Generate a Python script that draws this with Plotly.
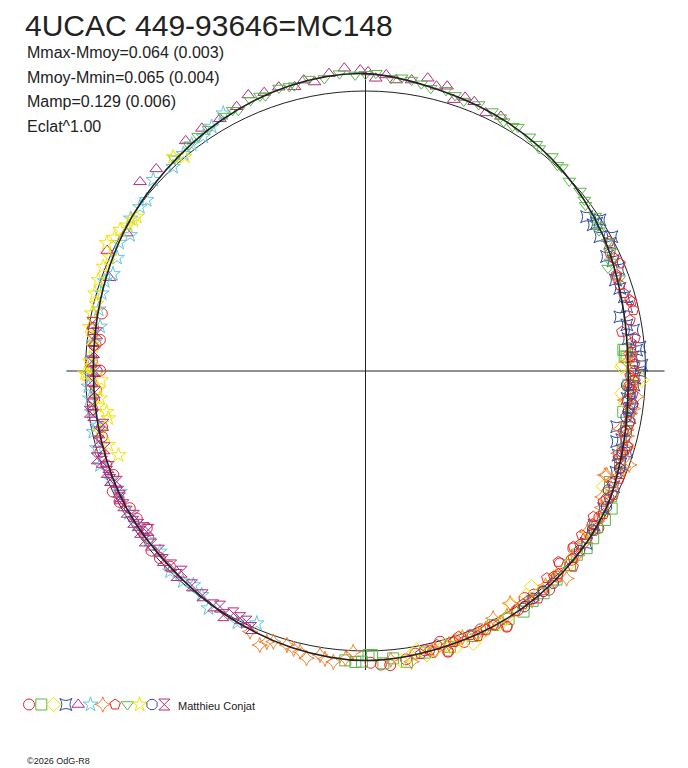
import plotly.graph_objects as go

# phase angle (deg, clockwise from top) and relative radius (1 = mean level)
circle_theta = [225, 227.7, 230, 232.4, 234.3, 237.2, 239.8, 242, 244.5, 247.6, 250, 253, 256, 262, 266, 270, 270.1, 272,
                275.6, 276.7, 279, 282.3, 118, 124, 130.5, 134.7, 140, 145, 151.1, 156, 160, 163.6, 164.6, 168, 172, 175.2,
                122, 127, 132.5, 137, 143, 147.5, 153, 158, 161.5, 166.5, 170, 177, 179, 258, 264, 268]
circle_r = [0.988, 0.993, 0.998, 0.979, 0.962, 0.972, 0.974, 0.995, 1.000, 0.974, 0.985, 0.990, 0.970, 0.985, 0.965, 0.960,
            0.948, 0.978, 0.969, 0.955, 0.985, 0.964, 0.975, 1.003, 0.976, 0.977, 1.020, 0.990, 1.043, 1.010, 1.030, 1.045,
            1.003, 1.020, 1.040, 1.054,
            0.985, 0.990, 0.998, 1.004, 1.000, 1.012, 1.018, 1.022, 1.015, 1.032, 1.025, 1.050, 1.042, 0.962, 0.975, 0.982]

square_theta = [85.3, 85.4, 86.8, 86.9, 99, 109.6, 114.4, 119.2, 121.9, 126.3, 128.7, 133.5, 141.3, 146.7, 153.3, 171.9,
                174.5, 176.5, 178.7, 179.4, 180.7, 182,
                90, 93, 103, 117, 124, 131, 137.5, 144, 150, 158, 163, 168, 184]
square_r = [0.924, 0.930, 0.927, 0.934, 0.932, 0.965, 0.959, 1.007, 1.007, 1.009, 1.012, 1.007, 1.017, 1.028, 1.015, 1.049,
            1.031, 1.046, 1.015, 1.014, 1.038, 1.040,
            0.952, 0.940, 0.955, 0.985, 0.998, 1.000, 1.010, 1.015, 1.022, 1.020, 1.030, 1.028, 1.036]

diamond_theta = [88.7, 89, 91.5, 91.9, 95, 115.9, 125.6, 131, 137, 142.4, 144.3, 148, 150.3, 154.8, 158.4, 160.5, 161.7,
                 164, 167.8, 169.6, 171,
                 93, 97, 101, 106.5, 112, 120.5, 128, 134, 140, 146, 152, 156.5, 163, 166, 173]
diamond_r = [0.921, 0.915, 0.980, 0.987, 0.918, 0.944, 0.986, 0.995, 1.000, 0.972, 0.986, 0.985, 1.017, 1.016, 1.046, 1.013,
             1.037, 1.020, 1.037, 1.013, 1.030,
             0.952, 0.935, 0.958, 0.962, 0.975, 0.990, 0.992, 1.002, 1.006, 1.010, 1.022, 1.028, 1.030, 1.026, 1.042]

sqstar_theta = [55.1, 57.2, 57.3, 57.4, 60.2, 61.4, 62.4, 64.6, 70, 76.2, 78, 81.3, 83, 85, 85.6, 88.8, 90.1, 93, 96, 98,
                102.5, 105, 105.7, 107.2, 108.4, 112, 124, 128,
                66, 68, 72, 74, 80, 87, 91.5, 94.5, 100, 110, 115, 120]
sqstar_r = [0.963, 0.996, 0.966, 0.980, 0.965, 1.002, 0.985, 0.953, 0.950, 0.961, 0.929, 0.968, 0.945, 0.984, 0.971, 0.987,
            0.980, 0.960, 0.940, 0.955, 0.919, 0.948, 0.932, 0.976, 0.951, 0.965, 0.985, 1.000,
            0.968, 0.975, 0.955, 0.962, 0.948, 0.955, 0.962, 0.945, 0.958, 0.970, 0.978, 0.982]

triup_theta = [290, 295, 300, 310, 314, 322, 330, 337, 343, 346, 350, 353, 356, 359, 2, 6, 9, 12, 16, 18, 22, 25, 28,
               326, 334, 340, 348, 0.5, 4, 14, 20]
triup_r = [0.973, 1.018, 0.985, 1.051, 1.039, 1.043, 1.040, 1.071, 1.060, 1.046, 1.048, 1.070, 1.084, 1.075, 1.046, 1.045,
           1.052, 1.069, 1.058, 1.019, 1.037, 1.017, 1.030,
           1.045, 1.050, 1.058, 1.062, 1.068, 1.060, 1.048, 1.040]

star_theta = [203.3, 213.5, 216.2, 218.8, 224.3, 228.7, 236, 243.8, 247, 250.5, 254, 257.4, 261.5, 264.3, 266.8, 272.3,
              279.5, 286.4, 291, 294.5, 300, 306, 308, 312, 316.7, 325.3, 327.8, 331.1,
              207, 221, 232, 239, 258.5, 269, 276, 283, 289, 297.5, 303, 320, 322.5]
star_r = [0.981, 1.016, 0.991, 0.981, 1.000, 0.977, 0.985, 0.977, 0.990, 1.006, 0.999, 0.996, 0.989, 0.989, 0.991, 0.979,
          0.961, 0.982, 0.966, 0.975, 0.971, 0.996, 0.992, 1.020, 1.002, 1.018, 1.031, 1.051,
          1.008, 0.995, 0.982, 0.985, 0.978, 0.982, 0.975, 0.978, 0.985, 0.992, 1.000, 1.012, 1.020]

dstar_theta = [86.2, 91.9, 95.4, 96.4, 99.1, 102.7, 102.8, 106.1, 109.6, 110.4, 113.3, 113.5, 120, 128, 135.9, 140, 148.1,
               152.7, 157, 163, 171, 182.5, 186.3, 189.1, 191.6, 193.1, 196, 198.8, 201.1, 203.9,
               88, 93.5, 98, 104, 108, 115.5, 118, 123, 126, 131, 138, 144, 150, 155, 160, 166, 175, 184, 188, 194.5, 200]
dstar_r = [0.947, 0.957, 0.973, 0.933, 0.957, 0.956, 0.932, 0.977, 1.000, 0.982, 0.938, 0.933, 0.975, 0.995, 1.032, 1.000,
           0.977, 0.994, 1.022, 1.020, 1.051, 1.004, 1.045, 1.027, 1.047, 1.029, 1.018, 1.021, 1.049, 1.018,
           0.935, 0.945, 0.965, 0.962, 0.950, 0.972, 0.958, 0.985, 0.978, 1.003, 1.010, 1.012, 1.010, 1.016, 1.012, 1.028,
           1.035, 1.030, 1.038, 1.025, 1.030]

pent_theta = [62, 64.3, 65.5, 67.1, 69, 69.4, 71.3, 73.2, 75, 75.4, 77.2, 79.1, 81.3, 84, 87, 90, 93, 95, 97.2, 100.8,
              103.2, 106, 108, 110.9, 113, 116.6, 118.8, 122.6, 125, 127.2, 130.2, 133.3, 134.7, 136.5, 138.8, 142.8,
              146, 151, 153.3, 158.4, 160.7, 163.6, 165.4, 169,
              83, 86, 88.5, 91, 92, 94, 96.5, 99, 101.5, 104.5, 107, 109, 112, 114.5, 117.5, 121, 124, 129, 132, 137.5,
              141, 144.5, 148, 155, 157, 162, 167]
pent_r = [0.985, 0.969, 0.975, 0.987, 0.960, 0.958, 0.959, 0.962, 0.978, 0.982, 0.981, 0.962, 0.926, 0.955, 0.948, 0.960,
          0.945, 0.958, 0.964, 0.962, 0.946, 0.975, 0.960, 0.973, 0.985, 0.990, 0.969, 0.966, 0.995, 0.969, 0.972, 1.019,
          0.969, 1.000, 0.983, 1.020, 1.005, 1.044, 1.015, 1.014, 1.005, 1.045, 1.011, 1.030,
          0.970, 0.950, 0.962, 0.945, 0.958, 0.952, 0.940, 0.948, 0.960, 0.958, 0.968, 0.955, 0.983, 0.968, 0.980, 0.992,
          0.978, 0.985, 0.998, 0.995, 1.008, 1.005, 1.012, 1.020, 1.028, 1.018, 1.024]

tridown_theta = [318, 322, 327, 331, 334, 337, 340, 343, 346, 349, 352, 355, 358, 2, 5, 9, 13, 16, 20, 23, 26, 29, 32, 35,
                 38, 41, 44, 47, 50, 53, 56, 59, 62, 66, 67, 70,
                 324.5, 333, 339, 345, 0, 7, 11, 18, 28, 31, 37, 43, 52, 58, 64]
tridown_r = [1.020, 1.024, 1.030, 1.041, 1.036, 1.050, 1.046, 1.057, 1.050, 1.062, 1.055, 1.066, 1.058, 1.064, 1.049, 1.052,
             1.036, 1.043, 1.026, 1.034, 1.031, 1.018, 1.027, 1.021, 1.008, 1.015, 1.010, 0.995, 1.000, 0.984, 0.990,
             0.973, 0.980, 0.958, 0.941, 0.965,
             1.030, 1.045, 1.052, 1.052, 1.060, 1.055, 1.045, 1.035, 1.025, 1.020, 1.014, 1.005, 0.992, 0.980, 0.972]

hexa_theta = [251.2, 254, 257.1, 259.6, 261, 264.1, 268, 269.2, 269.5, 272, 275.1, 279.1, 281.9, 286, 288.8, 291.7, 296.3,
              299.9, 303, 304, 318.1, 319.9,
              262.5, 266, 271, 277, 284, 294, 298, 301.5]
hexa_r = [0.932, 0.956, 0.973, 0.934, 0.936, 0.953, 0.945, 0.996, 1.002, 0.985, 0.976, 0.997, 0.999, 1.005, 1.008, 1.008,
          1.031, 1.011, 0.989, 0.986, 1.028, 1.001,
          0.965, 0.958, 0.978, 0.980, 0.990, 1.000, 1.015, 0.995]

oct_theta = [93.1, 95.2, 97, 100, 116.1, 119.4, 138.5, 141.1, 143.6, 98.5, 103, 107.5, 111, 125, 130, 146]
oct_r = [0.934, 0.949, 0.960, 0.945, 0.966, 0.988, 1.012, 1.012, 1.009, 0.950, 0.955, 0.962, 0.972, 0.990, 0.998, 1.015]

hour_theta = [205.4, 206.9, 208.6, 210.2, 211.7, 222.5, 222.8, 233.8, 234.5, 234.7, 235.9, 237, 239.5, 241, 242.6, 244,
              246, 246.9, 248.7, 251, 252, 255.2, 258.4, 260.8, 261.6, 272, 276.5, 280,
              204, 213, 216, 219, 225, 227, 229, 231, 232.5, 238, 243, 249.5, 253.5, 257, 263, 265.5, 268, 270, 274, 278]
hour_r = [0.991, 0.990, 0.986, 1.009, 0.989, 0.972, 0.993, 0.961, 0.989, 0.972, 0.980, 0.989, 0.990, 0.989, 0.988, 0.983,
          0.973, 0.992, 0.992, 0.996, 1.009, 0.987, 0.956, 0.985, 0.995, 0.978, 0.978, 0.990,
          1.005, 0.998, 0.990, 0.985, 0.982, 0.990, 0.978, 0.985, 0.994, 0.976, 0.985, 0.980, 0.972, 0.975, 0.982, 0.970,
          0.976, 0.965, 0.972, 0.968]

# fitted light curve
fit_theta = [0, 15, 30, 45, 60, 75, 90, 105, 120, 135, 150, 165, 180, 195, 210, 225, 240, 255, 270, 285, 300, 315, 330, 345, 360]
fit_r = [1.062, 1.037, 1.022, 1.003, 0.977, 0.949, 0.938, 0.956, 0.990, 1.006, 1.018, 1.025, 1.034, 1.022, 1.004, 0.988,
         0.984, 0.976, 0.972, 0.980, 0.996, 1.011, 1.033, 1.054, 1.062]

series = [
    (circle_theta, circle_r, "circle-open", "#e8262c"),
    (square_theta, square_r, "square-open", "#5bb847"),
    (diamond_theta, diamond_r, "diamond-open", "#f2e500"),
    (sqstar_theta, sqstar_r, "star-square-open", "#2f4c9e"),
    (triup_theta, triup_r, "triangle-up-open", "#b22c82"),
    (star_theta, star_r, "star-open", "#62c6de"),
    (dstar_theta, dstar_r, "star-diamond-open", "#f28232"),
    (pent_theta, pent_r, "pentagon-open", "#e8262c"),
    (tridown_theta, tridown_r, "triangle-down-open", "#5bb847"),
    (hexa_theta, hexa_r, "star-open", "#f2e500"),
    (oct_theta, oct_r, "octagon-open", "#2f4c9e"),
    (hour_theta, hour_r, "hourglass-open", "#b22c82"),
]

AX = 1.068  # length of the cross lines
RMAX = 1.1

fig = go.Figure()
ink = "#222222"
fig.add_trace(go.Scatterpolar(r=[AX, 0, AX], theta=[0, 0, 180], mode="lines",
                              line=dict(color=ink, width=1), hoverinfo="skip", showlegend=False))
fig.add_trace(go.Scatterpolar(r=[AX, 0, AX], theta=[90, 90, 270], mode="lines",
                              line=dict(color=ink, width=1), hoverinfo="skip", showlegend=False))

for th, rr, sym, col in series:
    fig.add_trace(go.Scatterpolar(r=rr, theta=th, mode="markers", showlegend=False,
                                  marker=dict(symbol=sym, size=11, color=col, line=dict(color=col, width=1))))

fig.add_trace(go.Scatterpolar(r=fit_r, theta=fit_theta, mode="lines", showlegend=False,
                              line=dict(color=ink, width=1.6, shape="spline")))

# marker key row under the plot
for i, (th, rr, sym, col) in enumerate(series):
    fig.add_trace(go.Scatter(x=[i], y=[0], mode="markers", showlegend=False, xaxis="x", yaxis="y",
                             marker=dict(symbol=sym, size=11, color=col, line=dict(color=col, width=1))))

# the page body has an 8px margin, so the figure is laid out 8px in from the window
OFF = 8
W, H = 688 - OFF, 768 - OFF
cx, cy, scale = 365.5 - OFF, 371 - OFF, 280
rad = RMAX * scale
key_x0, key_dx, key_y = 29 - OFF, 12.3, 704.5 - OFF
fig.update_layout(
    width=W, height=H,
    margin=dict(l=0, r=0, t=0, b=0),
    paper_bgcolor="white", plot_bgcolor="rgba(0,0,0,0)",
    polar=dict(
        domain=dict(x=[(cx - rad) / W, (cx + rad) / W], y=[(H - cy - rad) / H, (H - cy + rad) / H]),
        bgcolor="rgba(0,0,0,0)",
        radialaxis=dict(range=[0, RMAX], tickvals=[1], showticklabels=False, ticks="", showline=False,
                        showgrid=True, gridcolor=ink, gridwidth=1),
        angularaxis=dict(rotation=90, direction="clockwise", showline=False, showgrid=False,
                         showticklabels=False, ticks=""),
    ),
    xaxis=dict(domain=[0, 1], range=[-key_x0 / key_dx, (W - key_x0) / key_dx], visible=False, fixedrange=True),
    yaxis=dict(domain=[0, 1], range=[-(H - key_y), key_y], visible=False, fixedrange=True),
    font=dict(family="Liberation Sans, Arial, sans-serif", color=ink),
)

def note(text, x, y, size):
    fig.add_annotation(text=text, xref="paper", yref="paper", x=(x - OFF) / W, y=1 - (y - OFF) / H,
                       xanchor="left", yanchor="middle", showarrow=False, font=dict(size=size, color=ink))

# title sits against the top edge
fig.add_annotation(text="4UCAC 449-93646=MC148", xref="paper", yref="paper", x=(24 - OFF) / W, y=1,
                   xanchor="left", yanchor="top", showarrow=False, borderpad=0, font=dict(size=30, color=ink))
note("Mmax-Mmoy=0.064 (0.003)", 25, 52.5, 16)
note("Mmoy-Mmin=0.065 (0.004)", 25, 77, 16)
note("Mamp=0.129 (0.006)", 25, 101.5, 16)
note("Eclat^1.00", 25, 126, 16)
note("Matthieu Conjat", 176, 706, 11)
note("©2026 OdG-R8", 25, 761, 9)

fig.write_html("out.html")
